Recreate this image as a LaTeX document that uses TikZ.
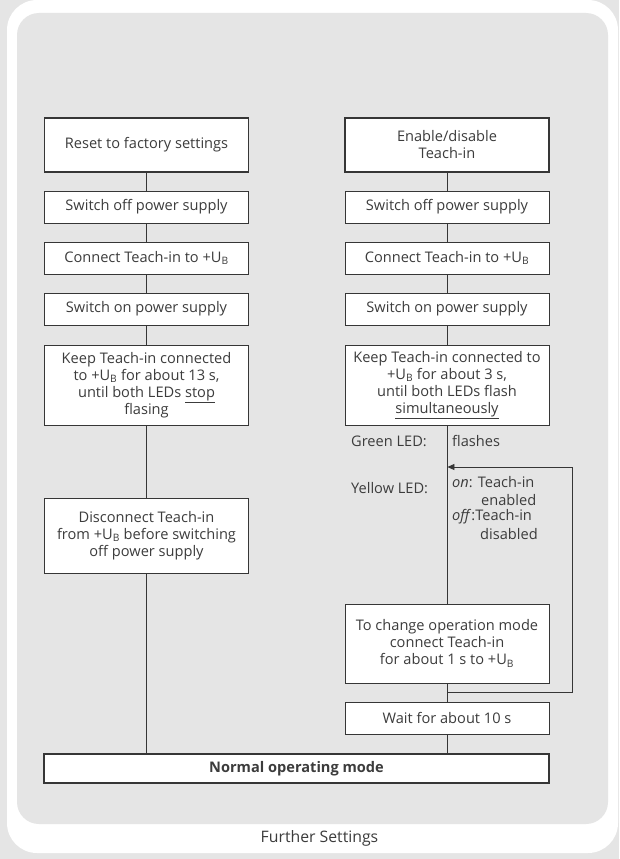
\documentclass[tikz,border=0pt]{standalone}
\usepackage{fontspec}
\setmainfont{Open Sans}
\usetikzlibrary{arrows.meta}
\definecolor{bggray}{HTML}{E5E5E5}
\definecolor{ink}{HTML}{363636}
\definecolor{txt}{HTML}{3C3C3C}
\tikzset{
  box/.style={draw=ink, fill=white, line width=0.9pt, minimum width=204pt, inner sep=0pt, align=center, text=txt, font=\fontsize{14.6}{17}\selectfont},
  headbox/.style={box, line width=1.8pt},
  conn/.style={draw=ink, line width=0.8pt},
  lbl/.style={text=txt, inner sep=0pt, font=\fontsize{14.6}{17}\selectfont},
}
\newcommand{\UB}{+U\textsubscript{B}}
\begin{document}
\begin{tikzpicture}[x=1pt,y=-1pt]
\useasboundingbox (0,0) rectangle (619,859);
\fill[bggray] (0,0) rectangle (619,859);
\fill[white, rounded corners=30pt] (7,0) rectangle (618,853);
\fill[bggray, rounded corners=22pt] (17,13) rectangle (608,824);
\node[lbl, font=\fontsize{15.8}{17}\selectfont] (title) at (319.5,838) {Further Settings};

% left column
\node[headbox, minimum height=54pt] (reset) at (146.5,145) {Reset to factory settings};
\node[box, minimum height=32pt] (offL) at (146.5,207) {Switch off power supply};
\node[box, minimum height=32pt] (conL) at (146.5,258) {Connect Teach-in to \UB};
\node[box, minimum height=32pt] (onL) at (146.5,309) {Switch on power supply};
\node[box, minimum height=80pt] (keepL) at (146.5,385) {Keep Teach-in connected\\to \UB{} for about 13 s,\\until both LEDs \underline{stop}\\flasing};
\node[box, minimum height=75pt] (disc) at (146.5,535.5) {Disconnect Teach-in\\from \UB{} before switching\\off power supply};

% right column
\node[headbox, minimum height=54pt] (enable) at (447,145) {Enable/disable\\Teach-in};
\node[box, minimum height=32pt] (offR) at (447,207) {Switch off power supply};
\node[box, minimum height=32pt] (conR) at (447,258) {Connect Teach-in to \UB};
\node[box, minimum height=32pt] (onR) at (447,309) {Switch on power supply};
\node[box, minimum height=80pt] (keepR) at (447,385) {Keep Teach-in connected to\\\UB{} for about 3 s,\\until both LEDs flash\\\underline{simultaneously}};
\node[box, minimum height=79pt] (change) at (447,643.5) {To change operation mode\\connect Teach-in\\for about 1 s to \UB};
\node[box, minimum height=32pt] (wait) at (447,718) {Wait for about 10 s};

\node[headbox, minimum width=505pt, minimum height=29pt, font=\fontsize{14.6}{17}\selectfont\bfseries] (normal) at (296.5,768.5) {Normal operating mode};

% LED labels
\node[lbl, anchor=west] (green) at (351,441) {Green LED:};
\node[lbl, anchor=west] (flash) at (452,441) {flashes};
\node[lbl, anchor=west] (yellow) at (351,488) {Yellow LED:};
\node[lbl, anchor=west] (on) at (452,482) {\textit{on}: Teach-in};
\node[lbl, anchor=west] (enab) at (481,500) {enabled};
\node[lbl, anchor=west] (off) at (452,517) {\textit{off}:Teach-in};
\node[lbl, anchor=west] (disab) at (480,534) {disabled};

% connectors
\draw[conn] (reset) -- (offL);
\draw[conn] (offL) -- (conL);
\draw[conn] (conL) -- (onL);
\draw[conn] (onL) -- (keepL);
\draw[conn] (keepL) -- (disc);
\draw[conn] (disc.south) -- (disc.south |- normal.north);

\draw[conn] (enable) -- (offR);
\draw[conn] (offR) -- (conR);
\draw[conn] (conR) -- (onR);
\draw[conn] (onR) -- (keepR);
\draw[conn] (keepR) -- (change);
\draw[conn] (change) -- (wait);
\draw[conn] (wait) -- (wait.south |- normal.north);

\coordinate (loopB) at (447,692);
\coordinate (loopBR) at (572,692);
\coordinate (loopTR) at (572,467);
\coordinate (loopT) at (447.4,467);
\draw[conn, -{Triangle[length=7pt,width=6pt]}] (loopB) -- (loopBR) -- (loopTR) -- (loopT);
\end{tikzpicture}
\end{document}
